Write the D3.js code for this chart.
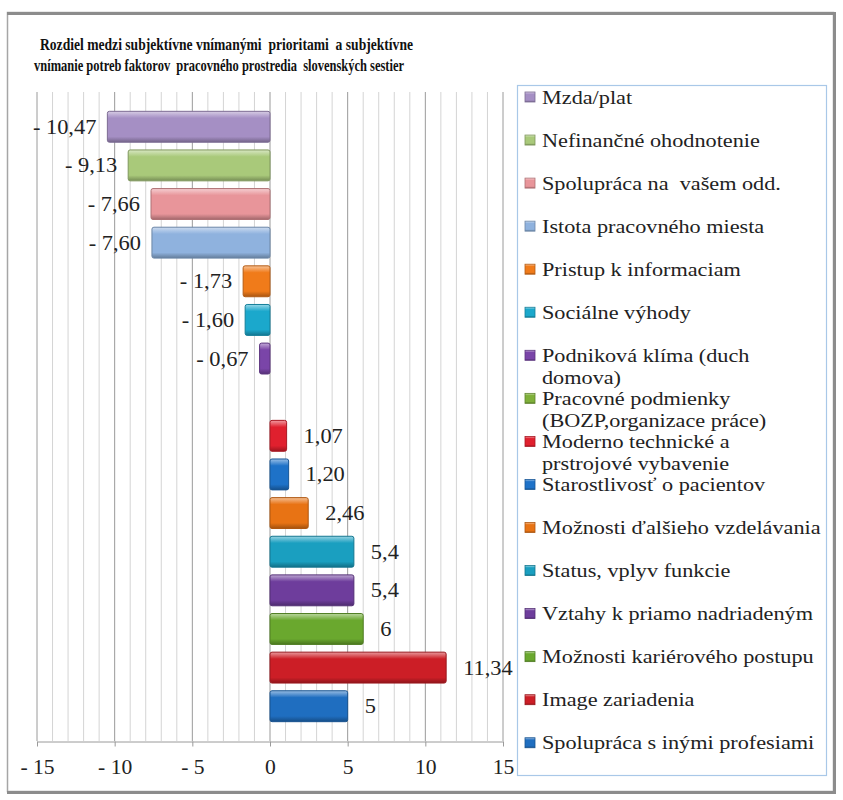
<!DOCTYPE html>
<html>
<head>
<meta charset="utf-8">
<script src="https://cdn.jsdelivr.net/npm/d3@7"></script>
<style>
  body { margin: 0; background: #fff; }
  svg text { font-family: "Liberation Serif", "DejaVu Serif", "Times New Roman", Times, serif; white-space: pre; }
</style>
</head>
<body>
<div id="chart"></div>
<script>
const categories = [
  'Mzda/plat',
  'Nefinančné ohodnotenie',
  'Spolupráca na  vašem odd.',
  'Istota pracovného miesta',
  'Pristup k informaciam',
  'Sociálne výhody',
  'Podniková klíma (duch|domova)',
  'Pracovné podmienky|(BOZP,organizace práce)',
  'Moderno technické a|prstrojové vybavenie',
  'Starostlivosť o pacientov',
  'Možnosti ďalšieho vzdelávania',
  'Status, vplyv funkcie',
  'Vztahy k priamo nadriadeným',
  'Možnosti kariérového postupu',
  'Image zariadenia',
  'Spolupráca s inými profesiami'
];
const values = [-10.47, -9.13, -7.66, -7.60, -1.73, -1.60, -0.67, 0, 1.07, 1.20, 2.46, 5.4, 5.4, 6, 11.34, 5];
const valueLabels = ['- 10,47', '- 9,13', '- 7,66', '- 7,60', '- 1,73', '- 1,60', '- 0,67', '', '1,07', '1,20', '2,46', '5,4', '5,4', '6', '11,34', '5'];
const colors = ['#a58fc4', '#a9c97a', '#e8959a', '#8fb2de', '#f07b1a', '#1ba8cc', '#7a45a8', '#7fb03a',
  '#e0202e', '#1e72c8', '#e87314', '#1a9fc0', '#6e3d9c', '#6aa82e', '#cc1e26', '#1f6ec0'];
const xTicks = [-15, -10, -5, 0, 5, 10, 15];
const titleLines = [
  'Rozdiel medzi subjektívne vnímanými  prioritami  a subjektívne',
  'vnímanie potreb faktorov  pracovného prostredia  slovenských sestier'
];

const width = 843, height = 800;
const serif = '"Liberation Serif", "DejaVu Serif", "Times New Roman", Times, serif';

const rows = categories.map((c, i) => ({ cat: c, value: values[i], label: valueLabels[i], color: colors[i], idx: i }));

// the original text is drawn a bit wider than the font we have
function stretch(sel, k) {
  sel.each(function() {
    const w = this.getComputedTextLength();
    d3.select(this).attr('textLength', w * k).attr('lengthAdjust', 'spacingAndGlyphs');
  });
}

const svg = d3.select('#chart').append('svg')
  .attr('width', width)
  .attr('height', height)
  .attr('font-family', serif);

// outer frame
svg.append('rect')
  .attr('x', 7.5).attr('y', 12.5)
  .attr('width', 826).attr('height', 779)
  .attr('fill', '#fff')
  .attr('stroke', '#a6a6a6')
  .attr('stroke-width', 1.5);
svg.append('path')
  .attr('d', 'M7,13.5H834.5V792.5H7')
  .attr('fill', 'none')
  .attr('stroke', '#8c8c8c')
  .attr('stroke-width', 3);

// title
svg.selectAll('text.title')
  .data(titleLines)
  .enter()
  .append('text')
  .attr('class', 'title')
  .attr('x', (d, i) => i == 0 ? 40 : 34)
  .attr('y', (d, i) => 50 + i * 21)
  .attr('textLength', (d, i) => i == 0 ? 373 : 370)
  .attr('lengthAdjust', 'spacingAndGlyphs')
  .style('font-size', '16px')
  .style('font-weight', 'bold')
  .style('fill', '#111')
  .text(d => d);

const x = d3.scaleLinear().domain([-15, 15]).range([37, 503]);
const y = d3.scaleBand().domain(categories).range([92, 741]).paddingInner(0.2).paddingOuter(0.5);

// grid
svg.append('g')
  .selectAll('line')
  .data(d3.range(-15, 16))
  .enter()
  .append('line')
  .attr('x1', d => x(d)).attr('x2', d => x(d))
  .attr('y1', 92).attr('y2', 741)
  .attr('stroke', d => d % 5 == 0 ? '#9a9a9a' : '#d4d4d4')
  .attr('stroke-width', 1);

const xAxis = d3.axisBottom(x)
  .tickValues(xTicks)
  .tickSize(5)
  .tickSizeOuter(0)
  .tickPadding(13)
  .tickFormat(d => d < 0 ? '- ' + Math.abs(d) : d);

const gx = svg.append('g')
  .attr('transform', 'translate(0,741.5)')
  .call(xAxis);
gx.attr('font-family', serif).attr('font-size', 20);
gx.select('.domain').attr('stroke', '#9a9a9a');
gx.selectAll('.tick line').attr('stroke', '#9a9a9a');
gx.selectAll('.tick text').style('fill', '#222');
stretch(gx.selectAll('.tick text'), 1.08);

// gradients for bevelled bars
const defs = svg.append('defs');
colors.forEach((c, i) => {
  const g = defs.append('linearGradient')
    .attr('id', 'grad' + i)
    .attr('x1', 0).attr('y1', 0).attr('x2', 0).attr('y2', 1);
  g.append('stop').attr('offset', '0%').attr('stop-color', d3.interpolateRgb(c, '#fff')(0.55));
  g.append('stop').attr('offset', '14%').attr('stop-color', d3.interpolateRgb(c, '#fff')(0.2));
  g.append('stop').attr('offset', '22%').attr('stop-color', c);
  g.append('stop').attr('offset', '82%').attr('stop-color', c);
  g.append('stop').attr('offset', '100%').attr('stop-color', d3.interpolateRgb(c, '#000')(0.3));
});

svg.append('g')
  .selectAll('rect')
  .data(rows.filter(d => d.value != 0))
  .enter()
  .append('rect')
  .attr('x', d => x(Math.min(0, d.value)))
  .attr('y', d => y(d.cat))
  .attr('width', d => Math.abs(x(d.value) - x(0)))
  .attr('height', y.bandwidth())
  .attr('rx', 2)
  .attr('fill', d => 'url(#grad' + d.idx + ')')
  .attr('stroke', d => d3.interpolateRgb(d.color, '#000')(0.25))
  .attr('stroke-width', 1);

// value labels
const vl = svg.append('g')
  .selectAll('text')
  .data(rows.filter(d => d.label != ''))
  .enter()
  .append('text')
  .attr('x', d => d.value < 0 ? x(d.value) - 11 : x(d.value) + 17)
  .attr('y', d => y(d.cat) + y.bandwidth() / 2 + 7)
  .attr('text-anchor', d => d.value < 0 ? 'end' : 'start')
  .style('font-size', '20px')
  .style('fill', '#222')
  .text(d => d.label);
stretch(vl, 1.12);

// legend
svg.append('rect')
  .attr('x', 517.5).attr('y', 85.5)
  .attr('width', 309).attr('height', 690)
  .attr('fill', '#fff')
  .attr('stroke', '#a9c8e8')
  .attr('stroke-width', 1.2);

const legend = svg.append('g')
  .selectAll('g')
  .data(rows)
  .enter()
  .append('g')
  .attr('transform', d => 'translate(525,' + (97 + d.idx * 43.05) + ')');

legend.append('rect')
  .attr('x', 0).attr('y', -5)
  .attr('width', 10).attr('height', 10)
  .attr('fill', d => 'url(#grad' + d.idx + ')')
  .attr('stroke', d => d3.interpolateRgb(d.color, '#000')(0.25))
  .attr('stroke-width', 0.8);

legend.each(function(d) {
  const t = d3.select(this).selectAll('text')
    .data(d.cat.split('|'))
    .enter()
    .append('text')
    .attr('x', 17)
    .attr('y', (l, j) => 6.5 + j * 22)
    .style('font-size', '19px')
    .style('fill', '#222')
    .text(l => l);
  stretch(t, 1.17);
});
</script>
</body>
</html>
